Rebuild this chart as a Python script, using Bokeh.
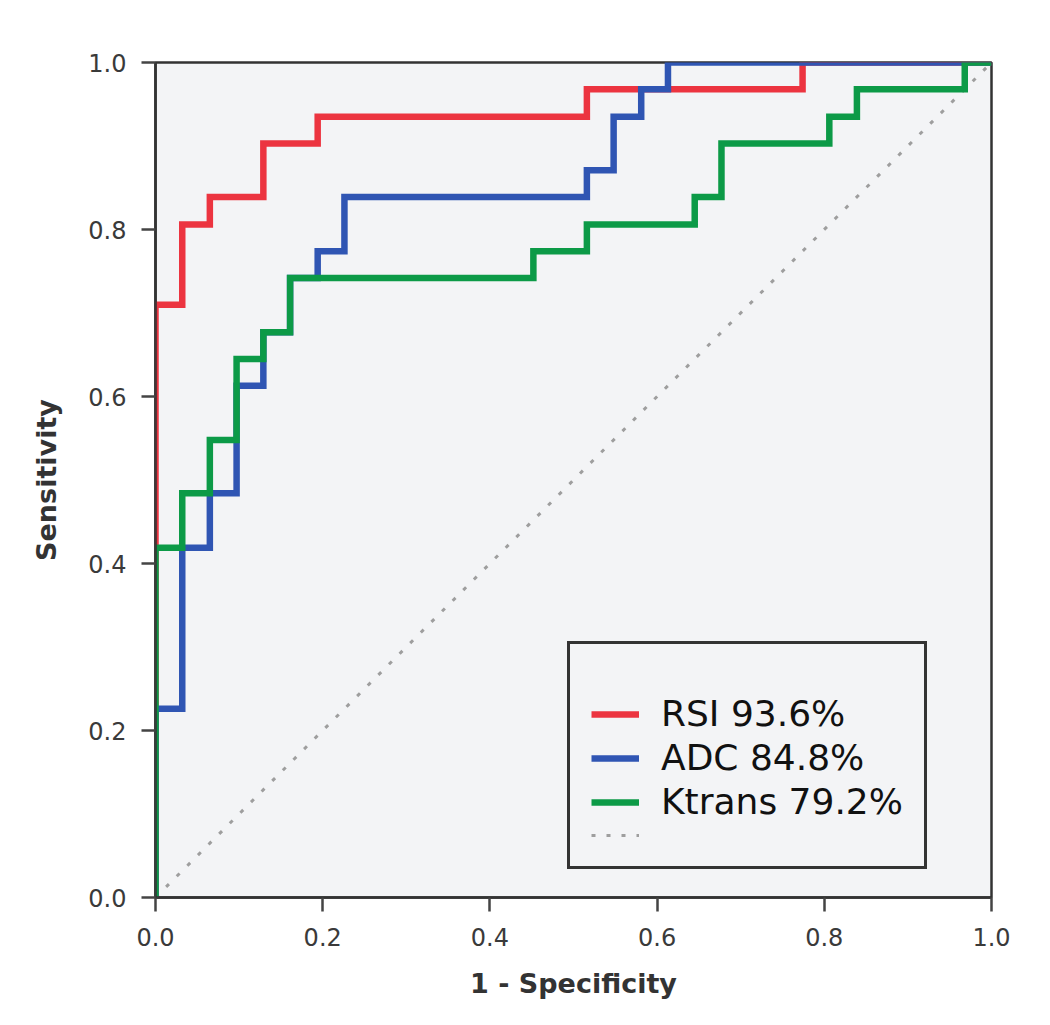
from bokeh.plotting import figure
from bokeh.models import Legend, LegendItem, Range1d, FixedTicker
from bokeh.embed import file_html
from bokeh.resources import INLINE

# ROC curves: at each FPR value the TPR rises to the listed value
rsi_fpr = [0.0, 0.032, 0.065, 0.129, 0.194, 0.516, 0.774, 1.0]
rsi_tpr = [0.710, 0.806, 0.839, 0.903, 0.935, 0.968, 1.0, 1.0]

adc_fpr = [0.0, 0.032, 0.065, 0.097, 0.129, 0.161, 0.194, 0.226, 0.516, 0.548, 0.581, 0.613, 1.0]
adc_tpr = [0.226, 0.419, 0.484, 0.613, 0.677, 0.742, 0.774, 0.839, 0.871, 0.935, 0.968, 1.0, 1.0]

ktr_fpr = [0.0, 0.032, 0.065, 0.097, 0.129, 0.161, 0.452, 0.516, 0.645, 0.677, 0.806, 0.839, 0.968, 1.0]
ktr_tpr = [0.419, 0.484, 0.548, 0.645, 0.677, 0.742, 0.774, 0.806, 0.839, 0.903, 0.935, 0.968, 1.0, 1.0]

diag_x = [0.0, 1.0]
diag_y = [0.0, 1.0]

series_labels = ["RSI 93.6%", "ADC 84.8%", "Ktrans 79.2%"]
tick_values = [0.0, 0.2, 0.4, 0.6, 0.8, 1.0]
tick_labels = ["0.0", "0.2", "0.4", "0.6", "0.8", "1.0"]


def staircase(fpr, tpr):
    xs, ys = [0.0], [0.0]
    for i, (fx, ty) in enumerate(zip(fpr, tpr)):
        xs.append(fx); ys.append(ty)
        if i + 1 < len(fpr):
            xs.append(fpr[i + 1]); ys.append(ty)
    return xs, ys


BG = "#f3f4f6"
FONT = "DejaVu Sans"

p = figure(frame_width=836, frame_height=835,
           x_range=Range1d(0, 1), y_range=Range1d(0, 1),
           output_backend="svg", toolbar_location=None,
           min_border_left=155, min_border_right=51,
           min_border_top=62, min_border_bottom=120)
p.background_fill_color = BG
p.border_fill_color = "white"
p.outline_line_color = "#333333"
p.outline_line_width = 2.5
p.xgrid.visible = False
p.ygrid.visible = False

r_diag = p.line(diag_x, diag_y, line_color="#9e9e9e", line_width=3, line_dash="4 11")

rx, ry = staircase(rsi_fpr, rsi_tpr)
ax, ay = staircase(adc_fpr, adc_tpr)
kx, ky = staircase(ktr_fpr, ktr_tpr)
r_rsi = p.line(rx, ry, line_color="#ec3440", line_width=6.5, line_join="miter")
r_adc = p.line(ax, ay, line_color="#2f55b3", line_width=6.5, line_join="miter")
r_ktr = p.line(kx, ky, line_color="#0c9a47", line_width=6.5, line_join="miter")

overrides = {v: s for v, s in zip(tick_values, tick_labels)}
for axis in (p.xaxis[0], p.yaxis[0]):
    axis.ticker = FixedTicker(ticks=tick_values)
    axis.major_label_overrides = overrides
    axis.minor_tick_line_color = None
    axis.major_tick_in = 0
    axis.major_tick_out = 14
    axis.major_tick_line_width = 2.5
    axis.major_tick_line_color = "#444444"
    axis.axis_line_width = 3
    axis.axis_line_color = "#333333"
    axis.axis_line_alpha = 0.8
    axis.major_label_text_font = FONT
    axis.major_label_text_font_size = "24px"
    axis.major_label_text_color = "#3a3a3a"
    axis.axis_label_text_font = FONT
    axis.axis_label_text_font_style = "bold"
    axis.axis_label_text_font_size = "27px"
    axis.axis_label_text_color = "#333333"

p.xaxis.axis_label = "1 - Specificity"
p.yaxis.axis_label = "Sensitivity"
p.xaxis.major_label_standoff = 16
p.yaxis.major_label_standoff = 15
p.xaxis.axis_label_standoff = 19
p.yaxis.axis_label_standoff = 23

legend = Legend(
    items=[LegendItem(label=series_labels[0], renderers=[r_rsi]),
           LegendItem(label=series_labels[1], renderers=[r_adc]),
           LegendItem(label=series_labels[2], renderers=[r_ktr]),
           LegendItem(label="", renderers=[r_diag])],
    location=(412, 28),
    label_text_font=FONT, label_text_font_size="36px", label_text_color="#111111",
    glyph_width=48, glyph_height=20, label_standoff=22, spacing=3, padding=21,
    border_line_color="#333333", border_line_width=3, border_line_alpha=1.0,
    background_fill_color=BG, background_fill_alpha=1.0,
    title=" ", title_text_font_size="20px",
)
p.add_layout(legend)

open("out.html", "w").write(file_html(p, INLINE))
